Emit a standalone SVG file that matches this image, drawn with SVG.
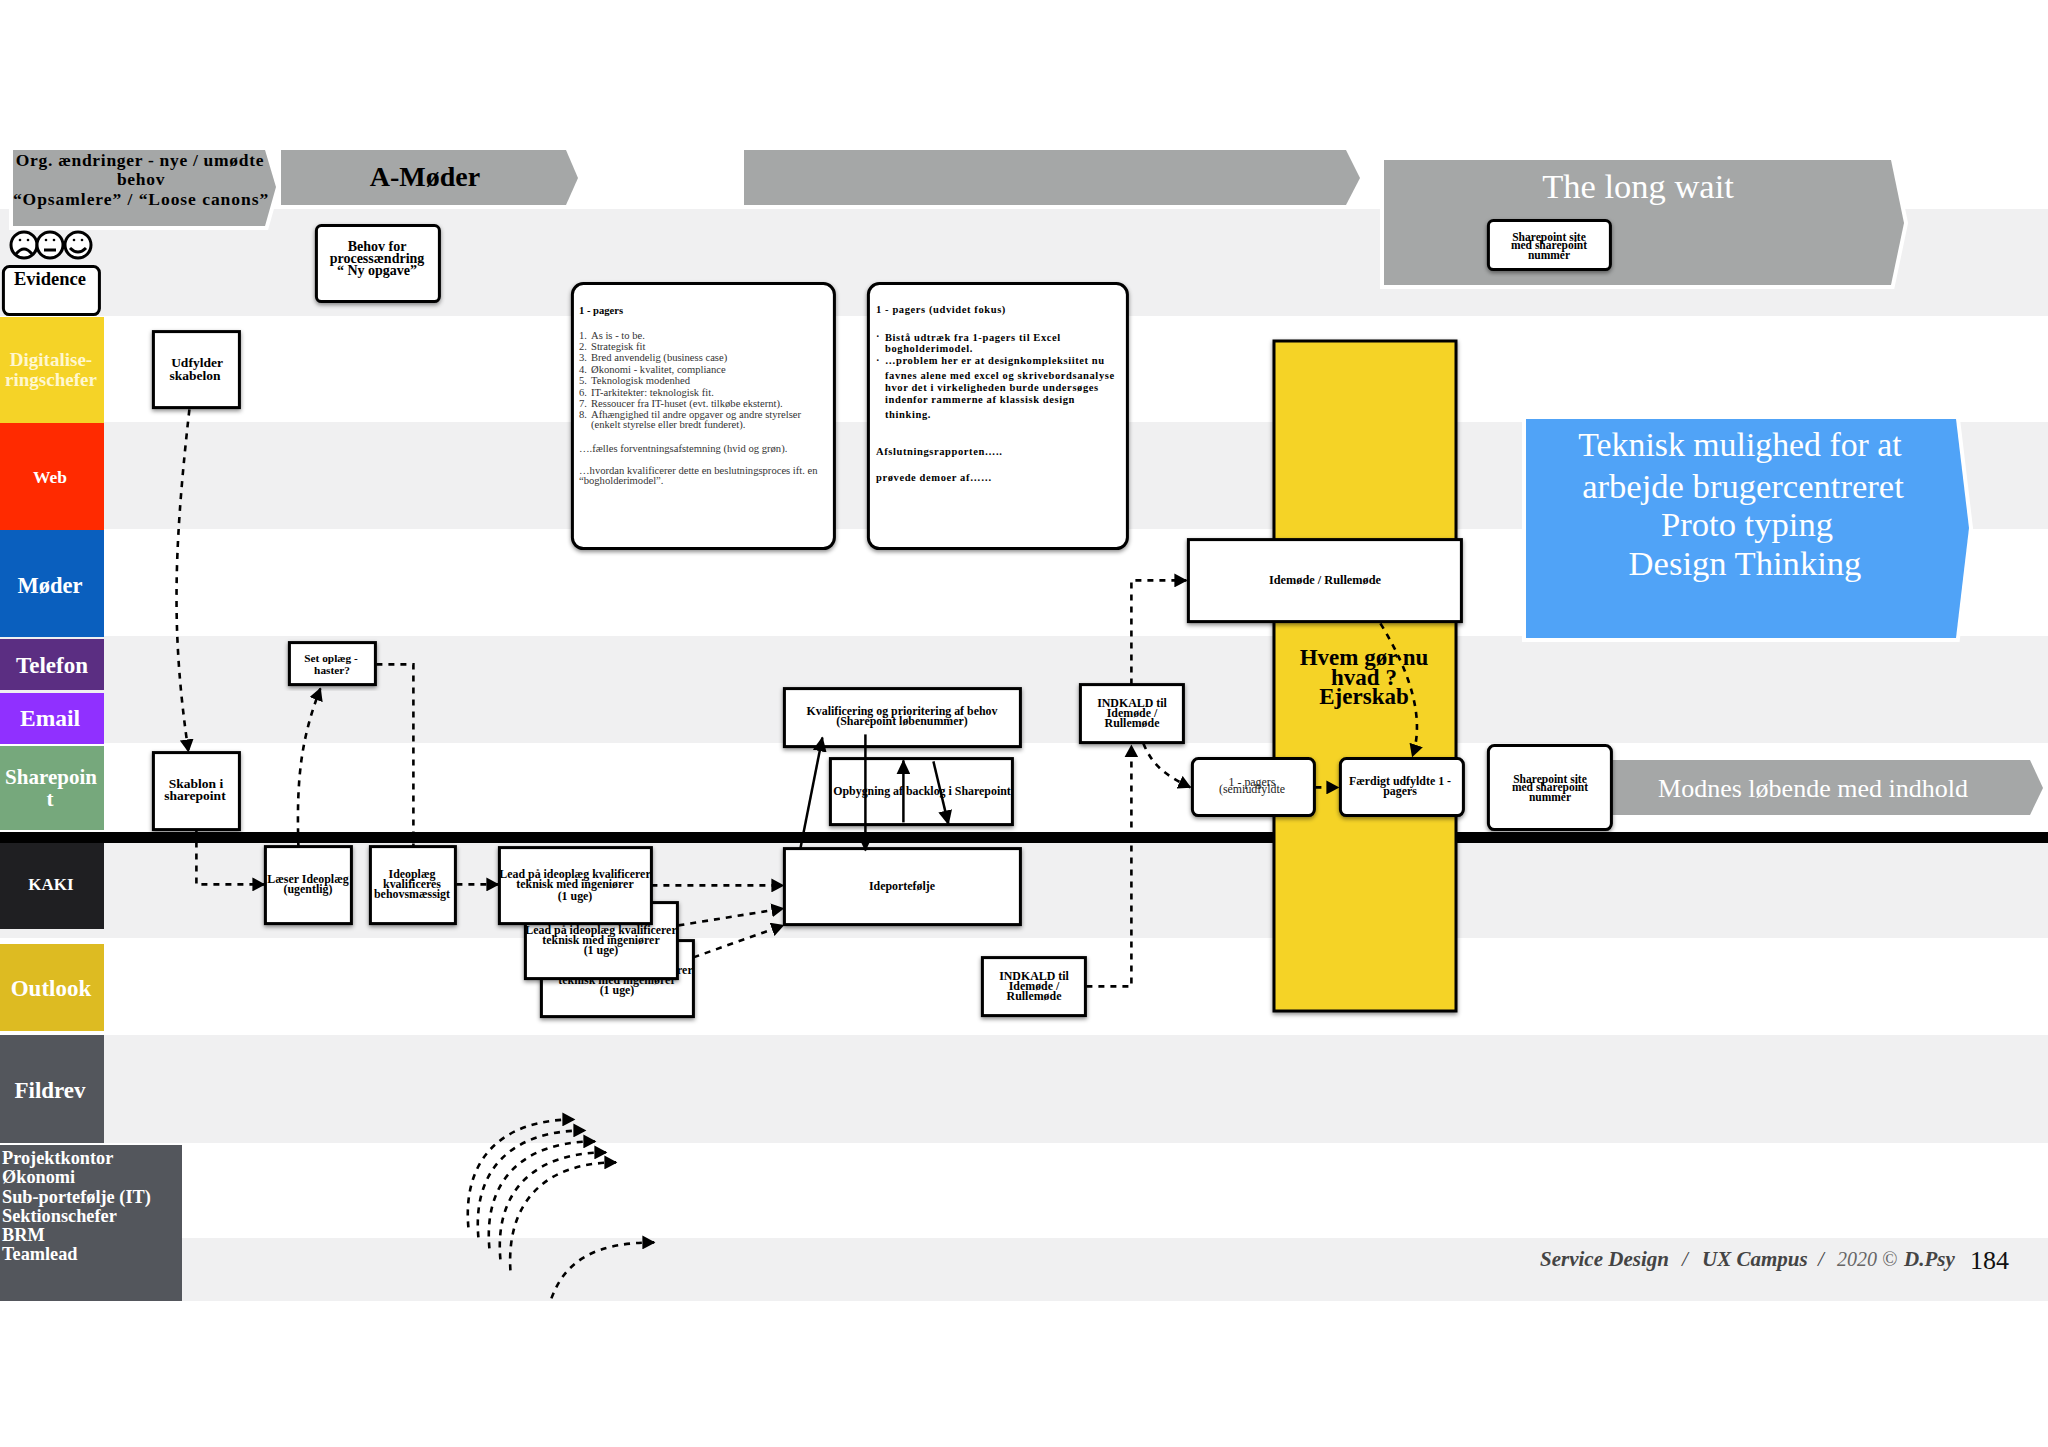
<svg xmlns="http://www.w3.org/2000/svg" width="2048" height="1447" viewBox="0 0 2048 1447">
<defs>
<style>
text{font-family:"Liberation Serif",serif;text-anchor:middle;transform:translateY(1.2px)}
.b{font-weight:bold;fill:#000}
.s{font-size:11.9px}
.l{fill:#fff;font-weight:bold}
.n{fill:#fff;stroke:#000;stroke-width:3;filter:url(#sh);transform:translate(.4px,.6px)}
.chev{fill:#a5a7a7;stroke:#fff;stroke-width:8;paint-order:stroke}
.thin{fill:#fff;font-weight:normal}
.start{text-anchor:start}
.dash{fill:none;stroke:#000;stroke-width:2.6;stroke-dasharray:6 6;marker-end:url(#arr)}
.solid{fill:none;stroke:#000;stroke-width:2.5;marker-end:url(#arr2)}
.f{font-style:italic;font-size:21px;fill:#444;text-anchor:start}
.face{fill:#fff;stroke:#000;stroke-width:3}
.fl{fill:none;stroke:#000;stroke-width:3}
</style>
<marker id="arr" markerUnits="userSpaceOnUse" markerWidth="14" markerHeight="14" refX="12" refY="7" orient="auto"><path d="M0 0L13 7L0 14Z" fill="#000"/></marker>
<marker id="arr2" markerUnits="userSpaceOnUse" markerWidth="16" markerHeight="14" refX="14" refY="7" orient="auto"><path d="M0 0L15 7L0 14Z" fill="#000"/></marker>
<filter id="sh" x="-10%" y="-10%" width="120%" height="125%"><feDropShadow dx="0" dy="2" stdDeviation="2" flood-color="#000" flood-opacity=".45"/></filter>
</defs>
<rect width="2048" height="1447" fill="#fff"/>
<g id="bands" fill="#f0f0f1">
<rect x="0" y="209" width="2048" height="107"/>
<rect x="0" y="422" width="2048" height="107"/>
<rect x="0" y="636" width="2048" height="107"/>
<rect x="0" y="843" width="2048" height="95"/>
<rect x="0" y="1035" width="2048" height="108"/>
<rect x="0" y="1238" width="2048" height="63"/>
</g>
<g id="lane-labels">
<g id="lane-evidence"><rect x="3" y="266" width="96" height="48" rx="6" class="n" style="filter:none"/><text x="50" y="284" class="b" font-size="18.5">Evidence</text></g>
<g id="lane-digital"><rect x="0" y="317" width="104" height="106" fill="#f5d327"/><text x="51" y="365" class="l" font-size="19" style="fill:#fff7cf">Digitalise-</text><text x="51" y="385" class="l" font-size="19" style="fill:#fff7cf">ringschefer</text></g>
<g id="lane-web"><rect x="0" y="423" width="104" height="107" fill="#ff2a00"/><text x="50" y="482" class="l" font-size="17.5">Web</text></g>
<g id="lane-moder"><rect x="0" y="530" width="104" height="107" fill="#0a5fbe"/><text x="50" y="592" class="l" font-size="22.5">Møder</text></g>
<g id="lane-telefon"><rect x="0" y="639" width="104" height="51" fill="#5b2e82"/><text x="52" y="672" class="l" font-size="23">Telefon</text></g>
<g id="lane-email"><rect x="0" y="693" width="104" height="51" fill="#9030ff"/><text x="50" y="725" class="l" font-size="23.5">Email</text></g>
<g id="lane-sharepoint"><rect x="0" y="746" width="104" height="84" fill="#76a87c"/><text x="51" y="783" class="l" font-size="21">Sharepoin</text><text x="50" y="805" class="l" font-size="21">t</text></g>
<g id="lane-kaki"><rect x="0" y="843" width="104" height="86" fill="#1f1f22"/><text x="51" y="889" class="l" font-size="17">KAKI</text></g>
<g id="lane-outlook"><rect x="0" y="944" width="104" height="87" fill="#ddbb22"/><text x="51" y="995" class="l" font-size="23">Outlook</text></g>
<g id="lane-fildrev"><rect x="0" y="1035" width="104" height="108" fill="#53565c"/><text x="50" y="1097" class="l" font-size="23">Fildrev</text></g>
<g id="lane-projekt"><rect x="0" y="1145" width="182" height="156" fill="#53565c"/>
<g font-size="18.3"><text x="2" y="1163" class="l start">Projektkontor</text><text x="2" y="1182" class="l start">Økonomi</text><text x="2" y="1202" class="l start">Sub-portefølje (IT)</text><text x="2" y="1221" class="l start">Sektionschefer</text><text x="2" y="1240" class="l start">BRM</text><text x="2" y="1259" class="l start">Teamlead</text></g></g>
</g>
<g id="faces">
<circle cx="24" cy="245" r="13" class="face"/><circle cx="20" cy="240" r="1.3"/><circle cx="28" cy="240" r="1.3"/><path d="M16 254Q24 244 32 254" class="fl"/>
<circle cx="50" cy="245" r="13" class="face"/><circle cx="46" cy="240" r="1.3"/><circle cx="54" cy="240" r="1.3"/><path d="M44 250H56" class="fl"/>
<circle cx="78" cy="245" r="13" class="face"/><circle cx="74" cy="240" r="1.3"/><circle cx="82" cy="240" r="1.3"/><path d="M70 248Q78 256 86 248" class="fl"/>
</g>
<g id="phase-org"><polygon points="13,150 265,150 276,187 265,226 13,226" class="chev"/>
<text x="140" y="165" class="b" font-size="17.5" letter-spacing=".7">Org. ændringer - nye / umødte</text><text x="141" y="184" class="b" font-size="17.5" letter-spacing=".7">behov</text><text x="141" y="204" class="b" font-size="17.5" letter-spacing=".95">“Opsamlere” / “Loose canons”</text></g>
<g id="phase-amoder"><polygon points="281,150 566,150 578,178 566,205 281,205" class="chev"/><text x="425" y="185" class="b" font-size="28">A-Møder</text></g>
<g id="phase-blank"><polygon points="744,150 1346,150 1360,178 1346,205 744,205" class="chev"/></g>
<g id="phase-wait"><polygon points="1384,160 1891,160 1904,223 1891,285 1384,285" class="chev"/><text x="1638" y="197" class="thin" font-size="34.5">The long wait</text></g>
<g id="phase-blue"><polygon points="1526,419 1956,419 1969,528 1956,638 1526,638" class="chev" style="fill:#50a3f7"/>
<text x="1740" y="455" class="thin" font-size="33.8">Teknisk mulighed for at</text><text x="1743" y="497" class="thin" font-size="34.6">arbejde brugercentreret</text><text x="1747" y="535" class="thin" font-size="34.6">Proto typing</text><text x="1745" y="574" class="thin" font-size="34.6">Design Thinking</text></g>
<g id="phase-modnes"><polygon points="1600,760 2030,760 2043,788 2030,815 1600,815" class="chev"/><text x="1813" y="796" class="thin" font-size="26">Modnes løbende med indhold</text></g>
<rect id="timeline" x="0" y="832" width="2048" height="11" fill="#000"/>
<g id="ejerskab"><rect x="1274" y="341" width="182" height="670" fill="#f5d327" stroke="#000" stroke-width="3" style="filter:url(#sh)"/>
<text x="1364" y="664" class="b" font-size="23">Hvem gør nu</text><text x="1364" y="684" class="b" font-size="23">hvad ?</text><text x="1364" y="703" class="b" font-size="23">Ejerskab</text></g>
<g id="n-behov"><rect x="316" y="225" width="123" height="76" rx="5" class="n"/><text x="377" y="250" class="b" font-size="14">Behov for</text><text x="377" y="262" class="b" font-size="14">processændring</text><text x="377" y="274" class="b" font-size="14">“ Ny opgave”</text></g>
<g id="n-udfylder"><rect x="153" y="331" width="86" height="76" class="n"/><text x="197" y="366" class="b" font-size="13.5">Udfylder</text><text x="195" y="379" class="b" font-size="13.5">skabelon</text></g>
<g id="n-card1"><rect x="572" y="283" width="262" height="265" rx="11" class="n"/>
<g font-size="10.6" fill="#333"><text x="579" y="313" class="b start">1 - pagers</text>
<text x="579" y="338" class="start">1.</text><text x="591" y="338" class="start">As is - to be.</text>
<text x="579" y="349" class="start">2.</text><text x="591" y="349" class="start">Strategisk fit</text>
<text x="579" y="360" class="start">3.</text><text x="591" y="360" class="start">Bred anvendelig (business case)</text>
<text x="579" y="372" class="start">4.</text><text x="591" y="372" class="start">Økonomi - kvalitet, compliance</text>
<text x="579" y="383" class="start">5.</text><text x="591" y="383" class="start">Teknologisk modenhed</text>
<text x="579" y="395" class="start">6.</text><text x="591" y="395" class="start">IT-arkitekter: teknologisk fit.</text>
<text x="579" y="406" class="start">7.</text><text x="591" y="406" class="start">Ressoucer fra IT-huset (evt. tilkøbe eksternt).</text>
<text x="579" y="417" class="start">8.</text><text x="591" y="417" class="start">Afhængighed til andre opgaver og andre styrelser</text>
<text x="591" y="427" class="start">(enkelt styrelse eller bredt funderet).</text>
<text x="579" y="451" class="start">….fælles forventningsafstemning (hvid og grøn).</text>
<text x="579" y="473" class="start">…hvordan kvalificerer dette en beslutningsproces ift. en</text>
<text x="579" y="483" class="start">“bogholderimodel”.</text></g></g>
<g id="n-card2"><rect x="868" y="283" width="259" height="265" rx="11" class="n"/>
<g font-size="10.5" letter-spacing=".6"><text x="876" y="312" class="b start">1 - pagers (udvidet fokus)</text>
<text x="876" y="339" class="b start">·</text><text x="885" y="340" class="b start">Bistå udtræk fra 1-pagers til Excel</text><text x="885" y="351" class="b start">bogholderimodel.</text>
<text x="876" y="363" class="b start">·</text><text x="885" y="363" class="b start">…problem her er at designkompleksiitet nu</text><text x="885" y="378" class="b start">favnes alene med excel og skrivebordsanalyse</text><text x="885" y="390" class="b start">hvor det i virkeligheden burde undersøges</text><text x="885" y="402" class="b start">indenfor rammerne af klassisk design</text><text x="885" y="417" class="b start">thinking.</text>
<text x="876" y="454" class="b start">Afslutningsrapporten…..</text><text x="876" y="480" class="b start">prøvede demoer af……</text></g></g>
<g id="n-idemode"><rect x="1188" y="539" width="273" height="82" class="n"/><text x="1325" y="583" class="b" font-size="12.3">Idemøde / Rullemøde</text></g>
<g id="n-setoplaeg"><rect x="289" y="642" width="86" height="42" class="n"/><text x="331" y="661" class="b" font-size="11.3">Set oplæg -</text><text x="332" y="673" class="b" font-size="11.3">haster?</text></g>
<g id="n-kval"><rect x="784" y="688" width="236" height="58" class="n"/><text x="902" y="714" class="b s">Kvalificering og prioritering af behov</text><text x="902" y="724" class="b s">(Sharepoint løbenummer)</text></g>
<g id="n-indkald1"><rect x="1080" y="684" width="103" height="58" class="n"/><text x="1132" y="706" class="b s">INDKALD til</text><text x="1132" y="716" class="b s">Idemøde /</text><text x="1132" y="726" class="b s">Rullemøde</text></g>
<g id="n-opbyg"><rect x="830" y="758" width="182" height="66" class="n"/><text x="922" y="794" class="b s">Opbygning af backlog i Sharepoint</text></g>
<g id="n-skablon"><rect x="153" y="752" width="86" height="77" class="n"/><text x="196" y="787" class="b" font-size="13.5">Skablon i</text><text x="195" y="799" class="b" font-size="13.5">sharepoint</text></g>
<g id="n-semi"><rect x="1192" y="758" width="122" height="57" rx="6" class="n"/><text x="1252" y="785" font-size="11.9" fill="#222">1 - pagers</text><text x="1252" y="792" font-size="11.9" fill="#222">(semiudfyldte</text></g>
<g id="n-faerdigt"><rect x="1340" y="758" width="123" height="57" rx="6" class="n"/><text x="1400" y="784" class="b s">Færdigt udfyldte 1 -</text><text x="1400" y="794" class="b s">pagers</text></g>
<g id="n-site2"><rect x="1488" y="745" width="123" height="84" rx="6" class="n"/><text x="1550" y="782" class="b" font-size="11.5">Sharepoint site</text><text x="1550" y="790" class="b" font-size="11.5">med sharepoint</text><text x="1550" y="800" class="b" font-size="11.5">nummer</text></g>
<g id="n-site1"><rect x="1488" y="220" width="122" height="49" rx="5" class="n"/><text x="1549" y="240" class="b" font-size="11.5">Sharepoint site</text><text x="1549" y="248" class="b" font-size="11.5">med sharepoint</text><text x="1549" y="258" class="b" font-size="11.5">nummer</text></g>
<g id="n-laeser"><rect x="265" y="846" width="86" height="77" class="n"/><text x="308" y="882" class="b s">Læser Ideoplæg</text><text x="308" y="892" class="b s">(ugentlig)</text></g>
<g id="n-ideoplaeg"><rect x="370" y="846" width="85" height="77" class="n"/><text x="412" y="877" class="b s">Ideoplæg</text><text x="412" y="887" class="b s">kvalificeres</text><text x="412" y="897" class="b s">behovsmæssigt</text></g>
<g id="n-lead3"><rect x="541" y="940" width="152" height="76" class="n"/><text x="617" y="973" class="b s">Lead på ideoplæg kvalificerer</text><text x="617" y="983" class="b s">teknisk med ingeniører</text><text x="617" y="993" class="b s">(1 uge)</text></g>
<g id="n-lead2"><rect x="525" y="902" width="152" height="76" class="n"/><text x="601" y="933" class="b s">Lead på ideoplæg kvalificerer</text><text x="601" y="943" class="b s">teknisk med ingeniører</text><text x="601" y="953" class="b s">(1 uge)</text></g>
<g id="n-lead1"><rect x="499" y="847" width="152" height="76" class="n"/><text x="575" y="877" class="b s">Lead på ideoplæg kvalificerer</text><text x="575" y="887" class="b s">teknisk med ingeniører</text><text x="575" y="899" class="b s">(1 uge)</text></g>
<g id="n-portefolje"><rect x="784" y="848" width="236" height="76" class="n"/><text x="902" y="889" class="b s">Ideportefølje</text></g>
<g id="n-indkald2"><rect x="982" y="957" width="103" height="58" class="n"/><text x="1034" y="979" class="b s">INDKALD til</text><text x="1034" y="989" class="b s">Idemøde /</text><text x="1034" y="999" class="b s">Rullemøde</text></g>
<g id="connectors" transform="translate(.4 .4)">
<path d="M189 409C172 560 172 640 188 751" class="dash"/>
<path d="M196 829V884H264" class="dash"/>
<path d="M298 846C296 780 300 740 320 688" class="dash"/>
<path d="M376 664H413V846" class="dash" style="marker-end:none"/>
<path d="M456 884H498" class="dash"/>
<path d="M651 885H783" class="dash"/>
<path d="M678 925L783 908" class="dash"/>
<path d="M693 957L783 925" class="dash"/>
<path d="M1131 684V580H1186" class="dash"/>
<path d="M1086 986H1131V745" class="dash"/>
<path d="M1143 743C1152 765 1165 775 1190 787" class="dash"/>
<path d="M1315 787H1338" class="dash"/>
<path d="M1380 623C1412 675 1424 720 1412 756" class="dash"/>
<path d="M468 1227C462 1160 500 1119 574 1119" class="dash"/>
<path d="M478 1237C472 1170 510 1130 585 1130" class="dash"/>
<path d="M489 1248C483 1181 521 1141 595 1141" class="dash"/>
<path d="M500 1259C494 1192 532 1152 606 1152" class="dash"/>
<path d="M510 1270C506 1203 543 1162 616 1162" class="dash"/>
<path d="M551 1298C565 1260 595 1242 654 1242" class="dash"/>
<path d="M800 848L822 737" class="solid"/>
<path d="M865 734V850" class="solid"/>
<path d="M903 822V760" class="solid"/>
<path d="M933 761L948 824" class="solid"/>
</g>
<g id="footer"><text x="1540" y="1265" class="f b" style="fill:#444">Service Design</text><text x="1682" y="1265" class="f">/</text><text x="1702" y="1265" class="f b" style="fill:#444">UX Campus</text><text x="1818" y="1265" class="f">/</text><text x="1837" y="1265" class="f" style="fill:#666;font-size:20px">2020 ©</text><text x="1904" y="1265" class="f b" style="fill:#444">D.Psy</text><text x="1970" y="1268" font-size="26" class="start" fill="#111">184</text></g>
</svg>
